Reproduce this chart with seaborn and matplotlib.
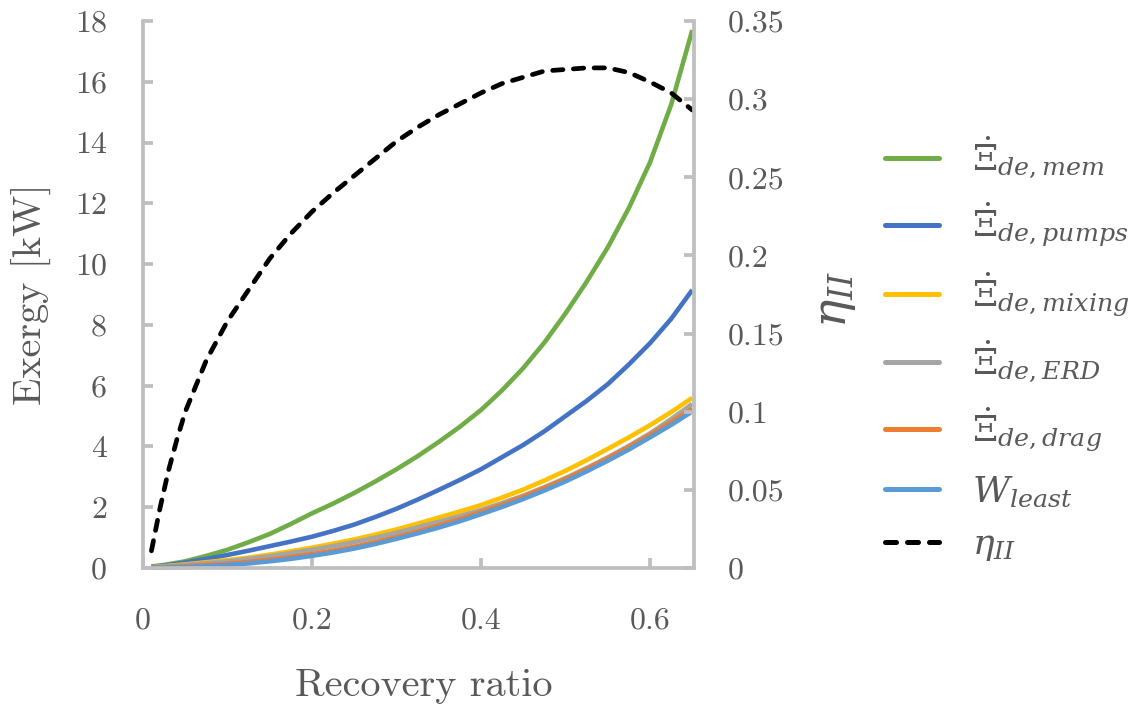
import numpy as np
import pandas as pd
import matplotlib
matplotlib.use("Agg")
import matplotlib.pyplot as plt
from matplotlib.ticker import FuncFormatter
import seaborn as sns

# ---- data ----
recovery  = [0.01, 0.025, 0.05, 0.075, 0.10, 0.125, 0.15, 0.175, 0.20, 0.225, 0.25, 0.275, 0.30, 0.325,
             0.35, 0.375, 0.40, 0.425, 0.45, 0.475, 0.50, 0.525, 0.55, 0.575, 0.60, 0.625, 0.65]
ex_mem    = [0.05, 0.10, 0.22, 0.40, 0.60, 0.85, 1.12, 1.45, 1.80, 2.12, 2.47, 2.85, 3.25, 3.68,
             4.15, 4.65, 5.20, 5.85, 6.58, 7.42, 8.38, 9.42, 10.55, 11.85, 13.35, 15.25, 17.70]
ex_pumps  = [0.04, 0.08, 0.18, 0.30, 0.43, 0.57, 0.72, 0.87, 1.03, 1.22, 1.43, 1.68, 1.95, 2.25,
             2.57, 2.90, 3.25, 3.65, 4.05, 4.50, 5.00, 5.50, 6.05, 6.70, 7.40, 8.20, 9.15]
ex_mixing = [0.03, 0.06, 0.12, 0.19, 0.26, 0.34, 0.44, 0.55, 0.67, 0.80, 0.94, 1.10, 1.27, 1.46,
             1.66, 1.86, 2.07, 2.32, 2.58, 2.88, 3.20, 3.55, 3.92, 4.30, 4.70, 5.13, 5.60]
ex_erd    = [0.02, 0.05, 0.10, 0.16, 0.22, 0.30, 0.39, 0.49, 0.60, 0.72, 0.85, 1.00, 1.16, 1.34,
             1.52, 1.71, 1.91, 2.14, 2.38, 2.66, 2.96, 3.29, 3.64, 4.02, 4.43, 4.90, 5.40]
ex_drag   = [0.02, 0.03, 0.06, 0.10, 0.14, 0.20, 0.27, 0.36, 0.46, 0.57, 0.70, 0.85, 1.02, 1.20,
             1.40, 1.61, 1.84, 2.08, 2.35, 2.63, 2.93, 3.26, 3.61, 3.98, 4.38, 4.80, 5.24]
w_least   = [0.01, 0.02, 0.03, 0.06, 0.10, 0.15, 0.22, 0.30, 0.40, 0.51, 0.64, 0.79, 0.96, 1.14,
             1.33, 1.54, 1.77, 2.01, 2.27, 2.55, 2.85, 3.18, 3.53, 3.90, 4.30, 4.71, 5.15]

eta_x = [0.01, 0.02, 0.03, 0.04, 0.05, 0.075, 0.10, 0.125, 0.15, 0.175, 0.20, 0.225, 0.25, 0.275, 0.30,
         0.325, 0.35, 0.375, 0.40, 0.425, 0.45, 0.475, 0.50, 0.525, 0.55, 0.575, 0.60, 0.625, 0.65]
eta   = [0.011, 0.038, 0.062, 0.082, 0.100, 0.133, 0.158, 0.178, 0.198, 0.214, 0.228, 0.240, 0.251, 0.262,
         0.273, 0.282, 0.290, 0.297, 0.304, 0.310, 0.314, 0.318, 0.319, 0.320, 0.320, 0.317, 0.311, 0.304, 0.293]

series_labels = [r'$\dot{\Xi}_{de,mem}$', r'$\dot{\Xi}_{de,pumps}$', r'$\dot{\Xi}_{de,mixing}$',
                 r'$\dot{\Xi}_{de,ERD}$', r'$\dot{\Xi}_{de,drag}$', r'$W_{least}$']
eta_label = r'$\eta_{II}$'
x_ticks = [0, 0.2, 0.4, 0.6]
y_ticks = [0, 2, 4, 6, 8, 10, 12, 14, 16, 18]
eta_ticks = [0, 0.05, 0.1, 0.15, 0.2, 0.25, 0.3, 0.35]

colors = ['#70AD47', '#4472C4', '#FFC000', '#A5A5A5', '#ED7D31', '#5B9BD5']

sns.set_style("white")
plt.rcParams['font.family'] = ['cmr10', 'DejaVu Serif']
plt.rcParams['mathtext.fontset'] = 'dejavuserif'
plt.rcParams['axes.unicode_minus'] = False

GRAY_TXT = '#595959'
SPINE = '#BFBFBF'

fig = plt.figure(figsize=(11.39, 7.09), dpi=100)
ax = fig.add_axes([143/1139, 1-568/709, 551/1139, 547/709])
ax2 = ax.twinx()

all_series = [ex_mem, ex_pumps, ex_mixing, ex_erd, ex_drag, w_least]
for vals, lab, col in zip(all_series, series_labels, colors):
    df = pd.DataFrame({'x': recovery, 'y': vals})
    sns.lineplot(data=df, x='x', y='y', ax=ax, color=col, lw=3.3, label=lab,
                 solid_capstyle='butt', solid_joinstyle='round', clip_on=False)

dfe = pd.DataFrame({'x': eta_x, 'y': eta})
sns.lineplot(data=dfe, x='x', y='y', ax=ax2, color='black', lw=3.4, label=eta_label,
             linestyle=(0, (2.2, 2.2)), dash_capstyle='round', clip_on=False)

ax.set_xlim(0, 0.652)
ax.set_ylim(0, 18)
ax2.set_ylim(0, 0.35)
ax.set_xticks(x_ticks)
ax.set_yticks(y_ticks)
ax2.set_yticks(eta_ticks)
fmt = FuncFormatter(lambda v, p: '%g' % round(v, 3))
ax.xaxis.set_major_formatter(fmt)
ax.yaxis.set_major_formatter(fmt)
ax2.yaxis.set_major_formatter(fmt)

for a in (ax, ax2):
    for s in a.spines.values():
        s.set_color(SPINE)
        s.set_linewidth(2.7)
    a.spines['top'].set_visible(False)
ax.spines['right'].set_visible(False)
ax2.spines['left'].set_visible(False)
ax2.spines['bottom'].set_visible(False)

ax.tick_params(axis='y', which='major', direction='in', length=7.5, width=2.7,
               color=SPINE, labelsize=23, labelcolor=GRAY_TXT, pad=26, left=True)
ax.tick_params(axis='x', which='major', direction='in', length=7.5, width=2.7,
               color=SPINE, labelsize=23, labelcolor=GRAY_TXT, pad=28, bottom=True)
ax2.tick_params(axis='y', which='major', direction='in', length=7.5, width=2.7,
                color=SPINE, labelsize=23, labelcolor=GRAY_TXT, pad=24, right=True)

ax.set_xlabel('Recovery ratio', fontsize=29, color=GRAY_TXT)
ax.set_ylabel('Exergy [kW]', fontsize=29, color=GRAY_TXT)
ax2.set_ylabel(eta_label, fontsize=34, color=GRAY_TXT)
ax.xaxis.set_label_coords(0.51, -0.183)
ax.yaxis.set_label_coords(-0.165, 0.5)
ax2.yaxis.set_label_coords(1.222, 0.49)

h1, l1 = ax.get_legend_handles_labels()
h2, l2 = ax2.get_legend_handles_labels()
for a in (ax, ax2):
    lg = a.get_legend()
    if lg is not None:
        lg.remove()
leg = fig.legend(h1 + h2, l1 + l2, loc='center left', bbox_to_anchor=(0.777, 0.508),
                 frameon=False, fontsize=26, handlelength=1.5, handletextpad=0.9,
                 labelspacing=0.56, borderpad=0, borderaxespad=0)
for t in leg.get_texts():
    t.set_color(GRAY_TXT)
for lh in leg.get_lines():
    lh.set_linewidth(3.6)
    lh.set_solid_capstyle('round')

fig.savefig('out.png', dpi=100)
